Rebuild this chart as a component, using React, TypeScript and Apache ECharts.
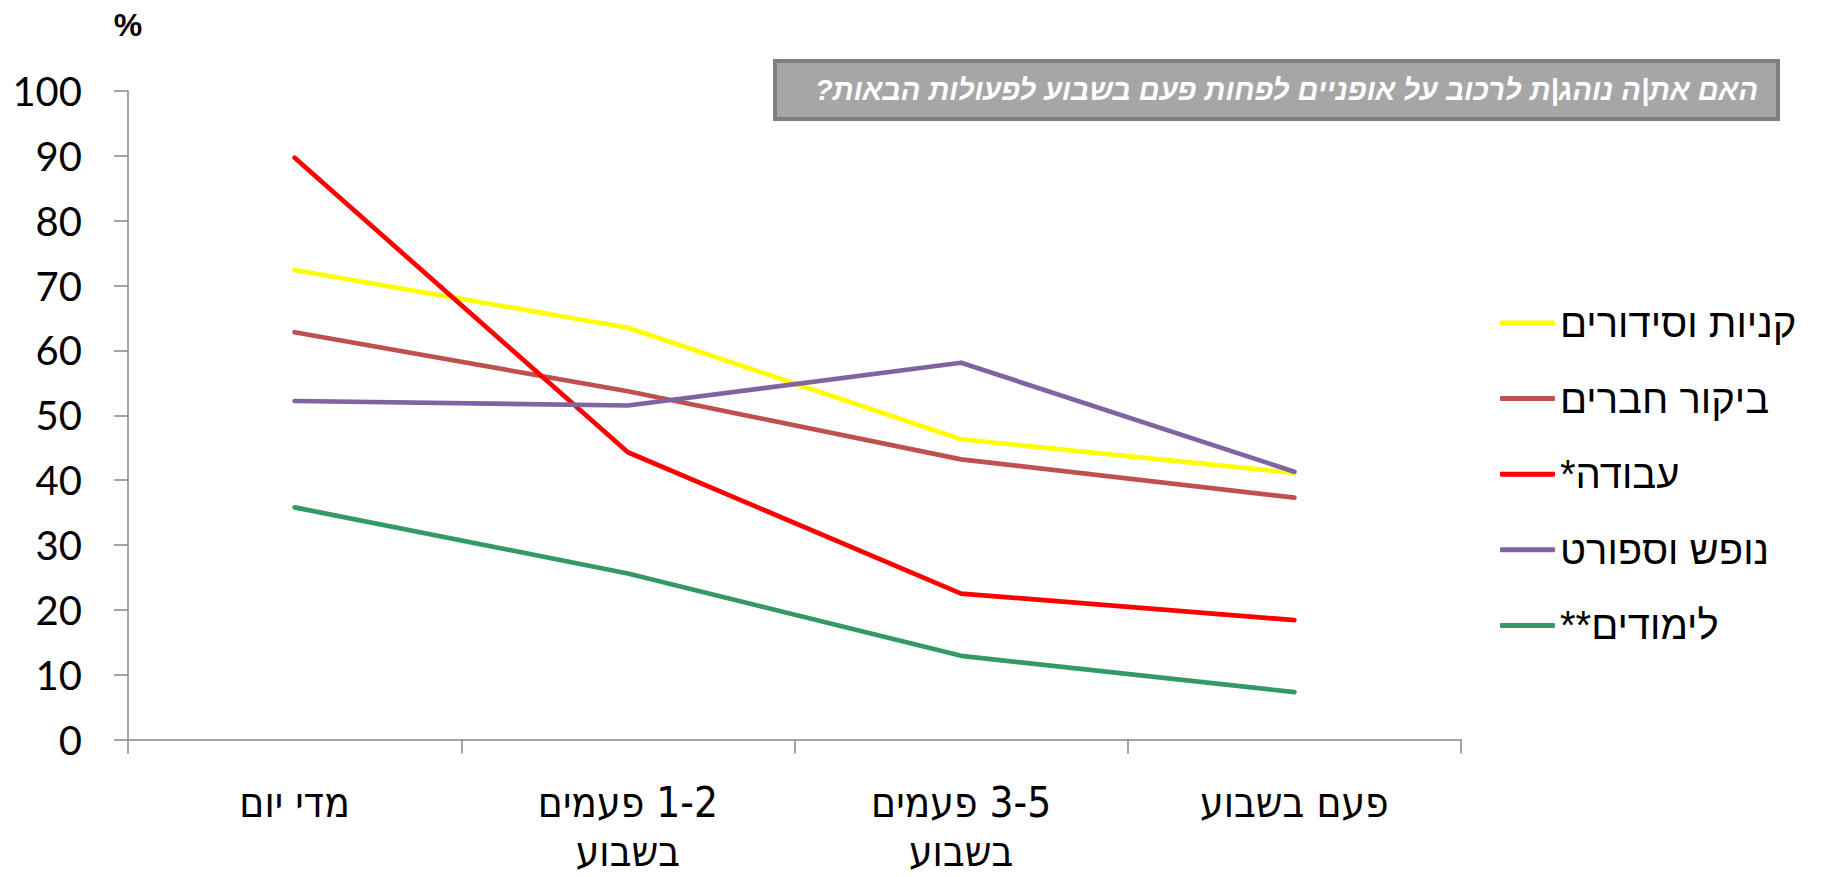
import React, { useEffect, useRef } from "react";
import * as echarts from "echarts";

const RLM = "\u200F";
const rtl = (s: string) => s.split("\n").map((l) => RLM + l + RLM).join("\n");

const categories = ["מדי יום", "1-2 פעמים\nבשבוע", "3-5 פעמים\nבשבוע", "פעם בשבוע"];
const seriesNames = ["קניות וסידורים", "ביקור חברים", "עבודה*", "נופש וספורט", "לימודים**"];
const shopping = [72.4, 63.5, 46.3, 41.1];
const friends = [62.8, 53.7, 43.2, 37.3];
const work = [89.7, 44.3, 22.5, 18.4];
const leisure = [52.2, 51.5, 58.1, 41.3];
const studies = [35.8, 25.6, 12.9, 7.3];
const colors = ["#FFFF00", "#C0504D", "#FF0000", "#8064A2", "#339966"];
const yTicks = { min: 0, max: 100, interval: 10 };
const titleText = "האם את|ה נוהג|ת לרכוב על אופניים לפחות פעם בשבוע לפעולות הבאות?";
const unitText = "%";

const HEB = '"Liberation Sans", Arial, sans-serif';
const NARROW = '"Liberation Sans Narrow", "DejaVu Sans Condensed", "Liberation Sans", sans-serif';

export default function App() {
  const ref = useRef<HTMLDivElement>(null);
  useEffect(() => {
    if (!ref.current) return;
    const chart = echarts.init(ref.current, undefined, { renderer: "svg" });
    const values = [shopping, friends, work, leisure, studies];
    chart.setOption({
      animation: false,
      backgroundColor: "#ffffff",
      grid: {
        left: 128,
        right: 386,
        top: 91,
        bottom: 137.5,
        containLabel: false,
        outerBoundsMode: "none",
      },
      legend: {
        orient: "vertical",
        left: 1500,
        top: 303,
        padding: 0,
        icon: "roundRect",
        itemWidth: 55,
        itemHeight: 5,
        itemGap: 35.6,
        data: seriesNames,
        formatter: (n: string) => rtl(n),
        textStyle: { fontFamily: HEB, fontSize: 40, color: "#000", lineHeight: 40, padding: [0, 0, 0, 0] },
      },
      xAxis: {
        type: "category",
        data: categories,
        boundaryGap: true,
        axisLine: { lineStyle: { color: "#868686", width: 1.5 } },
        axisTick: { show: true, length: 14, lineStyle: { color: "#868686", width: 1.5 } },
        axisLabel: {
          interval: 0,
          formatter: (v: string) => rtl(v),
          fontFamily: NARROW,
          fontSize: 42,
          lineHeight: 49,
          margin: 38,
          color: "#000",
        },
        splitLine: { show: false },
      },
      yAxis: {
        type: "value",
        min: yTicks.min,
        max: yTicks.max,
        interval: yTicks.interval,
        axisLine: { show: true, lineStyle: { color: "#868686", width: 1.5 } },
        axisTick: { show: true, length: 14, lineStyle: { color: "#868686", width: 1.5 } },
        axisLabel: { fontFamily: "Lato, sans-serif", fontSize: 40, color: "#000", margin: 46 },
        splitLine: { show: false },
      },
      graphic: [
        {
          type: "rect",
          shape: { x: 775, y: 61, width: 1003, height: 58 },
          style: { fill: "#a6a6a6", stroke: "#7f7f7f", lineWidth: 4 },
        },
        {
          type: "text",
          x: 1758,
          y: 90,
          style: {
            text: rtl(titleText),
            fill: "#ffffff",
            font: 'italic bold 29px "Liberation Sans", Arial, sans-serif',
            textAlign: "right",
            textVerticalAlign: "middle",
          },
        },
        {
          type: "text",
          x: 128,
          y: 25,
          style: {
            text: unitText,
            fill: "#000",
            font: 'bold 32px "Liberation Sans", Arial, sans-serif',
            textAlign: "center",
            textVerticalAlign: "middle",
          },
        },
      ],
      series: seriesNames.map((name, i) => ({
        name,
        type: "line",
        data: values[i],
        symbol: "none",
        lineStyle: { color: colors[i], width: 4.7, cap: "round", join: "round" },
        itemStyle: { color: colors[i] },
      })),
    });
    return () => chart.dispose();
  }, []);
  return <div ref={ref} style={{ position: "absolute", left: 0, top: 0, width: 1847, height: 877 }} />;
}
